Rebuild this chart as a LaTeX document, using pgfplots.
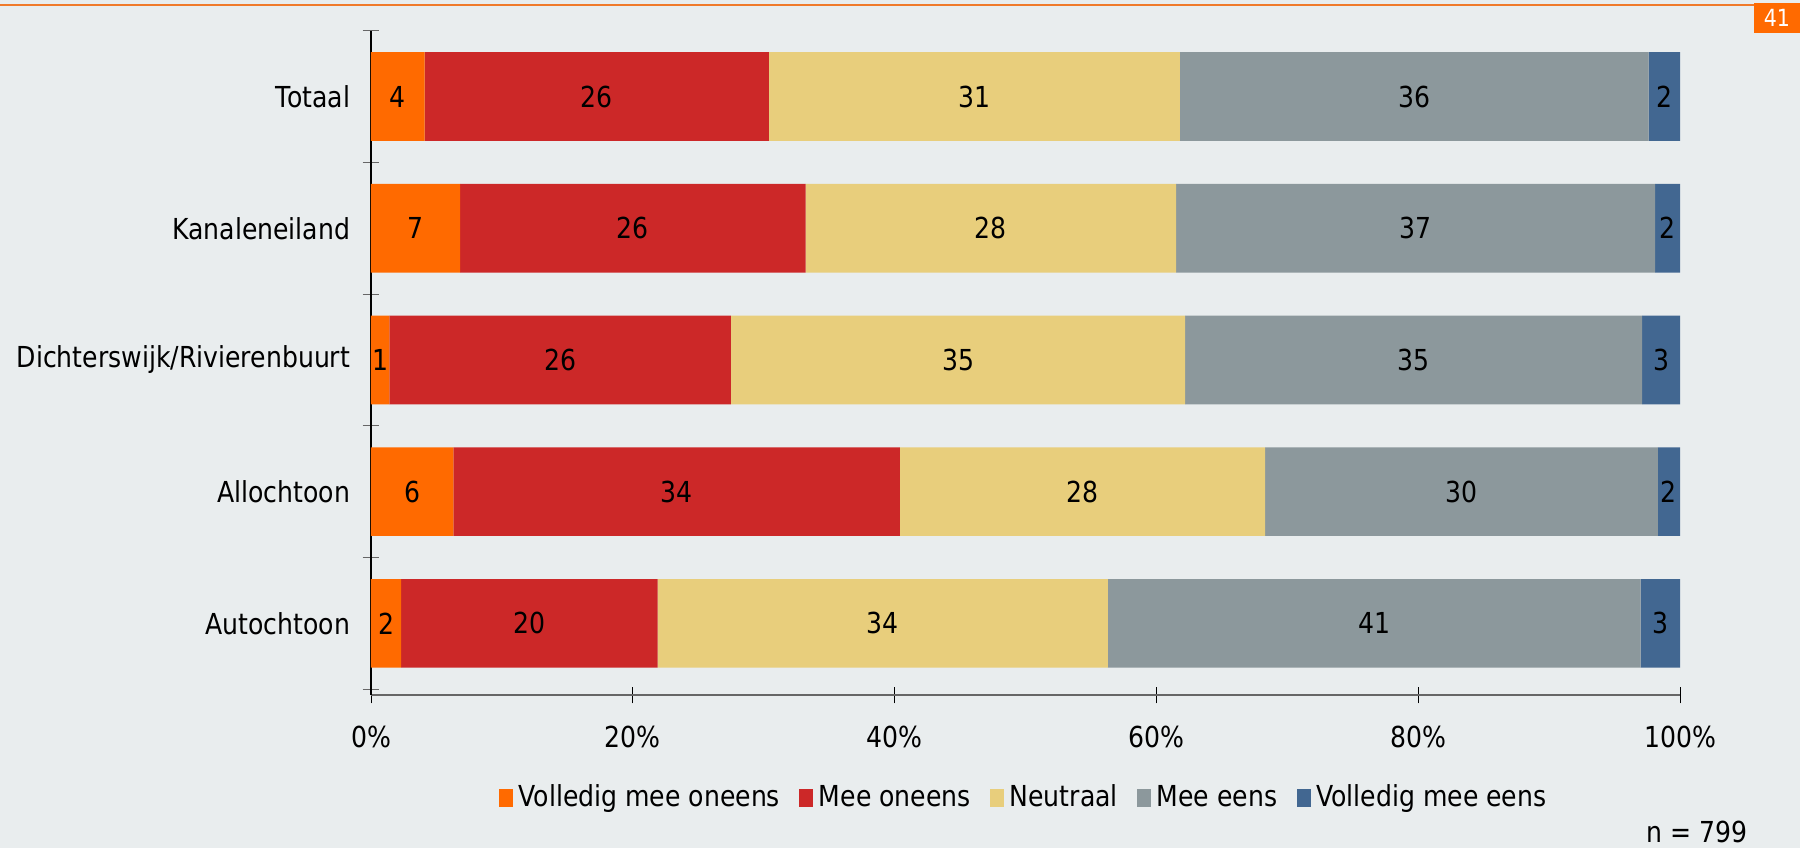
\documentclass[border=0pt]{standalone}
\usepackage{fontspec}
\setmainfont{DejaVu Sans}[FakeStretch=0.87]
\usepackage{pgfplots}
\usepackage{pgfplotstable}
\pgfplotsset{compat=1.18}

\definecolor{bg}{HTML}{E9EDEE}
\definecolor{cvmo}{HTML}{FF6A00}
\definecolor{cmo}{HTML}{CC2828}
\definecolor{cneu}{HTML}{E8CE7C}
\definecolor{cme}{HTML}{8C989C}
\definecolor{cvme}{HTML}{426791}
\definecolor{ctop}{HTML}{F07A2A}

% shares per group (percent), 0 = Autochtoon ... 4 = Totaal
\pgfplotstableread{
cat vmo  mo   neu  me   vme
4   4.1  26.3 31.4 35.8 2.4
3   6.8  26.4 28.3 36.6 1.9
2   1.4  26.1 34.7 34.9 2.9
1   6.3  34.1 27.9 30.0 1.7
0   2.3  19.6 34.4 40.7 3.0
}\shares

\begin{document}
\begin{tikzpicture}
\useasboundingbox (0,0) rectangle (648pt,305.28pt);
\fill[bg] (0,0) rectangle (648pt,305.28pt);
\draw[ctop, line width=0.8pt] (0,303.4pt) -- (648pt,303.4pt);
\fill[cvmo] (631.4pt,293.4pt) rectangle (648pt,304.2pt);
\node[white, font=\fontsize{8.5}{10}\selectfont] at (639.7pt,298.8pt) {41};
\node[font=\fontsize{10.4}{12}\selectfont] at (610.9pt,5.8pt) {n = 799};

\begin{axis}[
  at={(133.56pt,55.08pt)}, anchor=south west,
  scale only axis, width=471.24pt, height=239.15pt,
  xbar stacked, bar width=0.673,
  xmin=0, xmax=100, ymin=-0.544, ymax=4.5,
  axis x line=bottom, axis y line=left,
  x axis line style={-, draw=black!60, line width=1pt},
  y axis line style={-, draw=black, line width=0.4pt},
  tick align=center, major tick length=6pt,
  xtick={0,20,...,100},
  xticklabel={\pgfmathprintnumber{\tick}\%},
  xticklabel style={yshift=-4.5pt},
  x tick style={black, line width=0.3pt},
  ytick={-0.5,0.5,...,4.5}, yticklabels={},
  y tick style={black!60, line width=0.4pt},
  extra y ticks={0,1,2,3,4},
  extra y tick labels={Autochtoon,Allochtoon,Dichterswijk/Rivierenbuurt,Kanaleneiland,Totaal},
  extra y tick style={major tick length=0pt},
  /pgf/number format/assume math mode=true,
  tick label style={font=\fontsize{10.4}{12}\selectfont},
  yticklabel style={xshift=-4pt},
  visualization depends on=rawx \as \rawx,
  nodes near coords={\pgfmathprintnumber[fixed,precision=0]{\rawx}},
  every node near coord/.append style={anchor=center, black,
    font=\fontsize{10.4}{12}\selectfont},
  legend style={at={(0.5,-0.155)}, anchor=center, draw=none, fill=none,
    font=\fontsize{10.4}{12}\selectfont, legend columns=-1,
    /tikz/every even column/.append style={column sep=5pt}},
  legend image code/.code={\fill[#1] (0pt,-3.4pt) rectangle (5pt,3.2pt);},
]
\addplot[fill=cvmo, draw=none] table[x=vmo, y=cat] {\shares};
\addplot[fill=cmo, draw=none] table[x=mo, y=cat] {\shares};
\addplot[fill=cneu, draw=none] table[x=neu, y=cat] {\shares};
\addplot[fill=cme, draw=none] table[x=me, y=cat] {\shares};
\addplot[fill=cvme, draw=none] table[x=vme, y=cat] {\shares};
\legend{Volledig mee oneens, Mee oneens, Neutraal, Mee eens, Volledig mee eens}
\end{axis}
\end{tikzpicture}
\end{document}
